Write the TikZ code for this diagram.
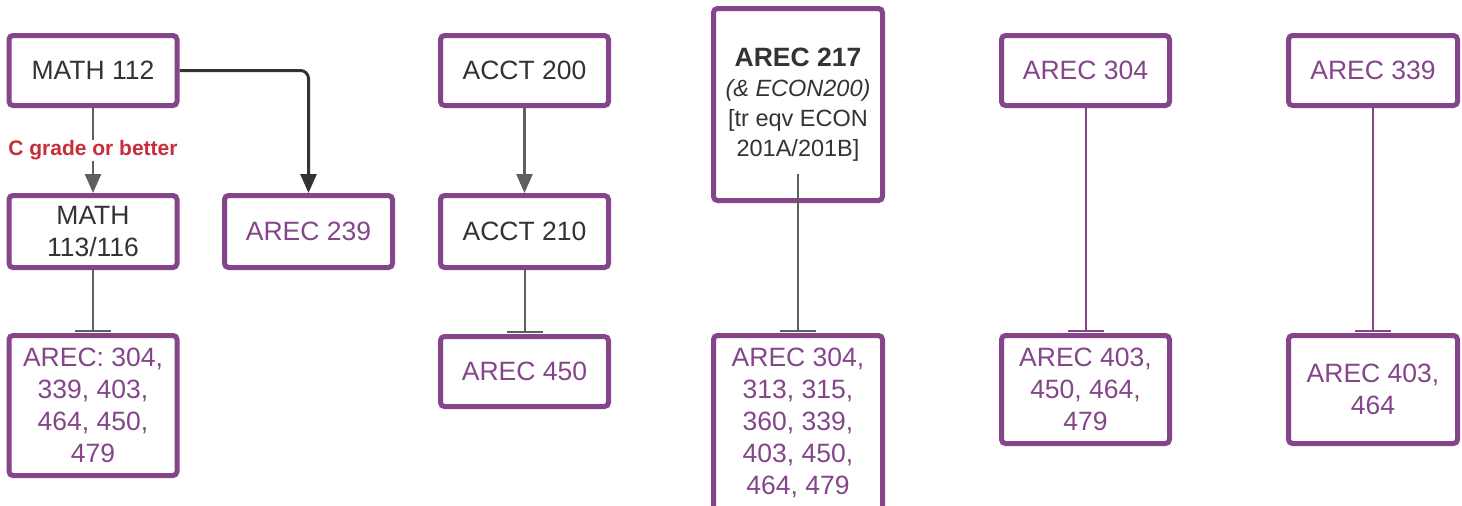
\documentclass[tikz,border=0pt]{standalone}
\usepackage{fontspec}
\setmainfont{Liberation Sans}
\usetikzlibrary{arrows.meta}
\definecolor{coursepurple}{RGB}{132,69,138}
\definecolor{coursegray}{RGB}{51,51,51}
\definecolor{linegray}{RGB}{95,95,95}
\definecolor{gradered}{RGB}{201,45,57}
\tikzset{
  course/.style={draw=coursepurple,line width=5pt,rounded corners=4pt,fill=white,
    minimum width=168pt,minimum height=70pt,align=center,inner sep=2pt,
    font=\fontsize{26.5}{32}\selectfont},
  prereq/.style={course,text=coursegray},
  opens/.style={course,text=coursepurple},
  needs/.style={draw=linegray,line width=2.5pt,-{Triangle[length=19pt,width=16pt]}},
  blocks/.style={draw=linegray,line width=2pt,-{Bar[width=36pt,line width=2.5pt]},shorten >=1pt},
}
\begin{document}
\begin{tikzpicture}[x=1pt,y=-1pt]
	\useasboundingbox (0,0) rectangle (1462,506);

	% first column
	\node[prereq] (math112) at (93,70.5) {MATH 112};
	\node[prereq,minimum height=72pt] (math113) at (93,231.5) {MATH\\113/116};
	\node[opens,minimum height=72pt] (arec239) at (308.5,231.5) {AREC 239};
	\node[opens,minimum height=140pt] (arecmath) at (93,405.5) {AREC: 304,\\339, 403,\\464, 450,\\479};

	% accounting
	\node[prereq] (acct200) at (524.5,70.5) {ACCT 200};
	\node[prereq,minimum height=72pt] (acct210) at (524.5,231.5) {ACCT 210};
	\node[opens] (arec450) at (524.5,371.5) {AREC 450};

	% AREC 217
	\node[prereq,minimum width=169pt,minimum height=192pt,font=\fontsize{23.5}{30}\selectfont] (arec217) at (798,104.5)
		{{\fontsize{26.5}{30}\selectfont\bfseries AREC 217}\\\textit{(\& ECON200)}\\{[tr eqv ECON}\\201A/201B]};
	\node[opens,minimum width=169pt,minimum height=175pt] (arececon) at (798,423)
		{AREC 304,\\313, 315,\\360, 339,\\403, 450,\\464, 479};

	% AREC 304 and 339
	\node[opens] (arec304) at (1085.5,70.5) {AREC 304};
	\node[opens,minimum height=108pt] (arecnext) at (1085.5,389.5) {AREC 403,\\450, 464,\\479};
	\node[opens,minimum width=169pt] (arec339) at (1373,70.5) {AREC 339};
	\node[opens,minimum width=169pt,minimum height=108pt] (areclast) at (1373,389.5) {AREC 403,\\464};

	\draw[needs] (math112) -- node[fill=white,text=gradered,inner sep=1pt,
		font=\fontsize{21}{24}\selectfont\bfseries] (grade) {C grade or better} (math113);
	\draw[needs,draw=coursegray,line width=3pt,rounded corners=8pt] (math112.east) -| (arec239.north);
	\draw[needs] (acct200) -- (acct210);

	\draw[blocks] (math113) -- (arecmath);
	\draw[blocks] (acct210) -- (arec450);
	\draw[blocks] ([yshift=29pt]arec217.south) -- (arececon);
	\draw[blocks,draw=coursepurple] (arec304) -- (arecnext);
	\draw[blocks,draw=coursepurple] (arec339) -- (areclast);
\end{tikzpicture}
\end{document}
